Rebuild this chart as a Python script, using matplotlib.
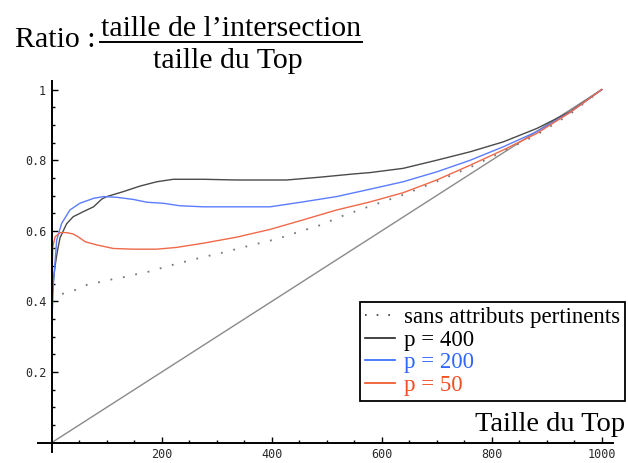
import matplotlib
matplotlib.use('Agg')
import matplotlib.pyplot as plt
from matplotlib.lines import Line2D
from matplotlib.ticker import FixedLocator, FuncFormatter

# ---------------- data ----------------
diag_x = [0, 1000]
diag_y = [0.0, 1.0]

sans_x = [0, 12, 42, 64, 88, 111, 135, 159, 182, 204, 228, 251, 276, 300, 323,
          347, 370, 394, 418, 439, 488, 530, 579, 639, 700, 761, 821, 882, 942, 1000]
sans_y = [0.402, 0.418, 0.432, 0.447, 0.455, 0.463, 0.470, 0.479, 0.486, 0.497,
          0.507, 0.516, 0.526, 0.534, 0.543, 0.553, 0.562, 0.571, 0.581, 0.592,
          0.616, 0.643, 0.670, 0.702, 0.740, 0.780, 0.825, 0.872, 0.930, 1.0]

p400_x = [0, 3, 6, 10, 15, 27, 39, 57, 76, 91, 100, 130, 161, 191, 221, 276, 336,
          427, 488, 548, 579, 639, 700, 761, 821, 882, 942, 1000]
p400_y = [0.40, 0.46, 0.50, 0.54, 0.58, 0.62, 0.64, 0.654, 0.668, 0.690, 0.697,
          0.711, 0.727, 0.739, 0.746, 0.746, 0.744, 0.744, 0.752, 0.761, 0.765,
          0.777, 0.800, 0.824, 0.852, 0.890, 0.937, 1.0]

p200_x = [0, 3, 9, 18, 33, 51, 76, 94, 118, 148, 173, 203, 233, 276, 336, 397,
          457, 518, 579, 639, 700, 761, 821, 882, 942, 1000]
p200_y = [0.33, 0.45, 0.574, 0.621, 0.659, 0.678, 0.692, 0.697, 0.695, 0.689,
          0.681, 0.678, 0.671, 0.668, 0.668, 0.668, 0.682, 0.697, 0.718, 0.739,
          0.767, 0.800, 0.838, 0.881, 0.935, 1.0]

p50_x = [0, 2, 6, 15, 27, 39, 48, 61, 82, 112, 148, 191, 227, 276, 336, 397, 457,
         518, 579, 639, 700, 761, 821, 882, 942, 1000]
p50_y = [0.45, 0.555, 0.583, 0.595, 0.595, 0.591, 0.583, 0.569, 0.560, 0.550,
         0.548, 0.548, 0.553, 0.565, 0.582, 0.604, 0.631, 0.659, 0.682, 0.708,
         0.744, 0.786, 0.829, 0.876, 0.935, 1.0]

labels = ["sans attributs pertinents", "p = 400", "p = 200", "p = 50"]
x_major = [200, 400, 600, 800, 1000]
x_minor = [50, 100, 150, 250, 300, 350, 450, 500, 550, 650, 700, 750, 850, 900, 950]
y_major = [0.2, 0.4, 0.6, 0.8, 1.0]
y_minor = [0.05, 0.1, 0.15, 0.25, 0.3, 0.35, 0.45, 0.5, 0.55, 0.65, 0.7, 0.75,
           0.85, 0.9, 0.95]

# ---------------- figure ----------------
W, H, DPI = 628, 463, 100
fig = plt.figure(figsize=(W / DPI, H / DPI), dpi=DPI)
SERIF = ['Liberation Serif', 'DejaVu Serif']
MONO = ['DejaVu Sans Mono']

ax = fig.add_axes([38 / W, (H - 451.8) / H, (612.7 - 38) / W, (451.8 - 80.8) / H])
ax.set_xlim(-25, 1020)
ax.set_ylim(-0.026, 1.025)
for s in ['top', 'right']:
    ax.spines[s].set_visible(False)
for s in ['left', 'bottom']:
    ax.spines[s].set_position(('data', 0))
    ax.spines[s].set_linewidth(1.4)
    ax.spines[s].set_color('black')

c_black = '#4a4a4a'
c_blue = '#5b7cff'
c_red = '#f0694a'

ax.plot(diag_x, diag_y, color='#8a8a8a', lw=1.0)
l0, = ax.plot(sans_x, sans_y, color='#777777', lw=1.3, linestyle=(0, (1, 6)))
l1, = ax.plot(p400_x, p400_y, color=c_black, lw=1.0)
l2, = ax.plot(p200_x, p200_y, color=c_blue, lw=1.0)
l3, = ax.plot(p50_x, p50_y, color=c_red, lw=1.0)

ax.xaxis.set_major_locator(FixedLocator(x_major))
ax.xaxis.set_minor_locator(FixedLocator(x_minor))
ax.yaxis.set_major_locator(FixedLocator(y_major))
ax.yaxis.set_minor_locator(FixedLocator(y_minor))
ax.yaxis.set_major_formatter(FuncFormatter(lambda v, p: "%g" % v))
ax.tick_params(which='major', direction='in', length=4, width=1.0, color='black',
               labelsize=8.5, labelcolor='#2a2a2a')
ax.tick_params(which='minor', direction='in', length=2.5, width=1.0, color='black')
ax.tick_params(axis='x', which='major', pad=4)
ax.tick_params(axis='y', which='major', pad=4)
for lab in ax.get_xticklabels() + ax.get_yticklabels():
    lab.set_family(MONO)

# x axis label
fig.text(625 / W, 1 - 431 / H, "Taille du Top", family=SERIF, fontsize=20.5,
         ha='right', va='baseline')

# title: Ratio : fraction
def fy(py):
    return 1 - py / H

fig.text(15 / W, fy(47), "Ratio :", family=SERIF, fontsize=21.5, ha='left', va='baseline')
fig.text(231 / W, fy(36), "taille de l\u2019intersection", family=SERIF, fontsize=21.5,
         ha='center', va='baseline')
fig.add_artist(Line2D([100 / W, 362 / W], [fy(41.7), fy(41.7)], color='black', lw=1.4))
fig.text(228 / W, fy(68), "taille du Top", family=SERIF, fontsize=21.5,
         ha='center', va='baseline')

# legend
leg = fig.legend([l0, l1, l2, l3], labels, loc='upper right',
                 bbox_to_anchor=(625 / W, fy(302)),
                 prop={'family': SERIF, 'size': 16.5},
                 frameon=True, fancybox=False, edgecolor='black', framealpha=1,
                 borderpad=0.22, labelspacing=0.07, handlelength=1.3,
                 handletextpad=0.4, borderaxespad=0)
leg.get_frame().set_linewidth(1.3)
for t, c in zip(leg.get_texts(), ['black', 'black', '#2f66ff', '#f04e23']):
    t.set_color(c)
for h, c in zip(leg.legend_handles, ['#333333', '#222222', '#2f66ff', '#f04e23']):
    h.set_color(c)
    h.set_linewidth(1.2)

fig.savefig('out.png', dpi=DPI)
